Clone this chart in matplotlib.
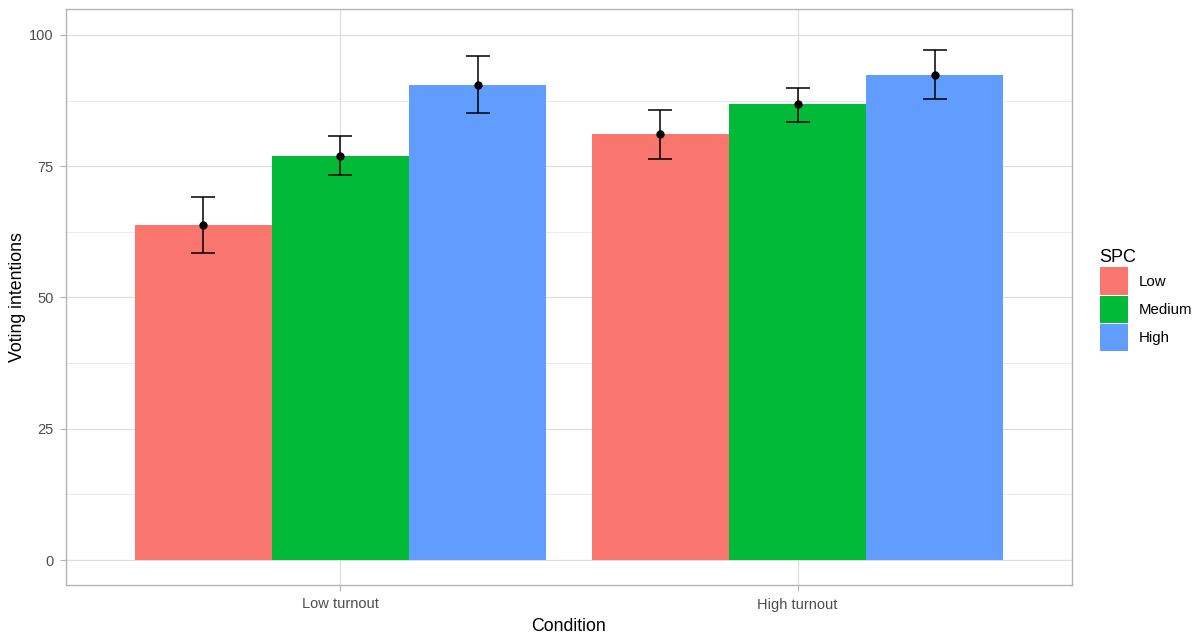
import matplotlib
matplotlib.use("Agg")
import matplotlib.pyplot as plt
import numpy as np
from matplotlib.patches import Patch

plt.rcParams['font.family'] = ['Liberation Sans', 'DejaVu Sans']

conditions = ["Low turnout", "High turnout"]
spc_levels = ["Low", "Medium", "High"]
colors = ["#F8766D", "#00BA38", "#619CFF"]

# means and error bar limits, rows = SPC level, cols = condition
means = [[63.8, 81.1],
         [77.0, 86.9],
         [90.5, 92.4]]
err_low = [[58.5, 76.3],
           [73.3, 83.5],
           [85.1, 87.8]]
err_high = [[69.1, 85.8],
            [80.8, 89.9],
            [96.0, 97.1]]

fig = plt.figure(figsize=(12, 6.39), dpi=100)
ax = fig.add_axes([66/1200, 54/639, (1072-66)/1200, (585-9)/639])

x = np.arange(1, len(conditions) + 1)
bw = 0.3
for i, lev in enumerate(spc_levels):
    xs = x + (i - 1) * bw
    m = np.array(means[i])
    lo = m - np.array(err_low[i])
    hi = np.array(err_high[i]) - m
    ax.bar(xs, m, width=bw, color=colors[i], zorder=2, label=lev)
    ax.errorbar(xs, m, yerr=[lo, hi], fmt='o', color='black', ms=5,
                elinewidth=1.1, capsize=8.5, capthick=1.1, zorder=3)

ax.set_xlim(0.4, 2.6)
ax.set_ylim(-4.76, 104.95)
ax.set_xticks(x)
ax.set_xticklabels(conditions)
ax.set_yticks([0, 25, 50, 75, 100])
ax.set_yticks([12.5, 37.5, 62.5, 87.5], minor=True)
ax.grid(which='major', color='#DEDEDE', lw=0.9, zorder=0)
ax.grid(which='minor', axis='y', color='#E8E8E8', lw=0.6, zorder=0)
ax.set_axisbelow(True)
for s in ax.spines.values():
    s.set_color('#B3B3B3')
    s.set_linewidth(1.0)
ax.tick_params(which='major', colors='#B3B3B3', length=4, width=0.8,
               labelcolor='#4D4D4D', labelsize=10.5, pad=5)
ax.tick_params(which='minor', length=0)

ax.set_xlabel("Condition", fontsize=12.8, color='black', labelpad=5)
ax.set_ylabel("Voting intentions", fontsize=12.8, color='black', labelpad=2)

handles = [Patch(facecolor=c, edgecolor='none') for c in colors]
leg = fig.legend(handles, spc_levels, title="SPC", loc='upper left',
                 bbox_to_anchor=(1086/1200, 1 - 236/639), frameon=False,
                 fontsize=10.8, title_fontsize=13, handlelength=1.9,
                 handleheight=2.45, labelspacing=0.05, handletextpad=0.7,
                 alignment='left')

fig.savefig("out.png", dpi=100)
